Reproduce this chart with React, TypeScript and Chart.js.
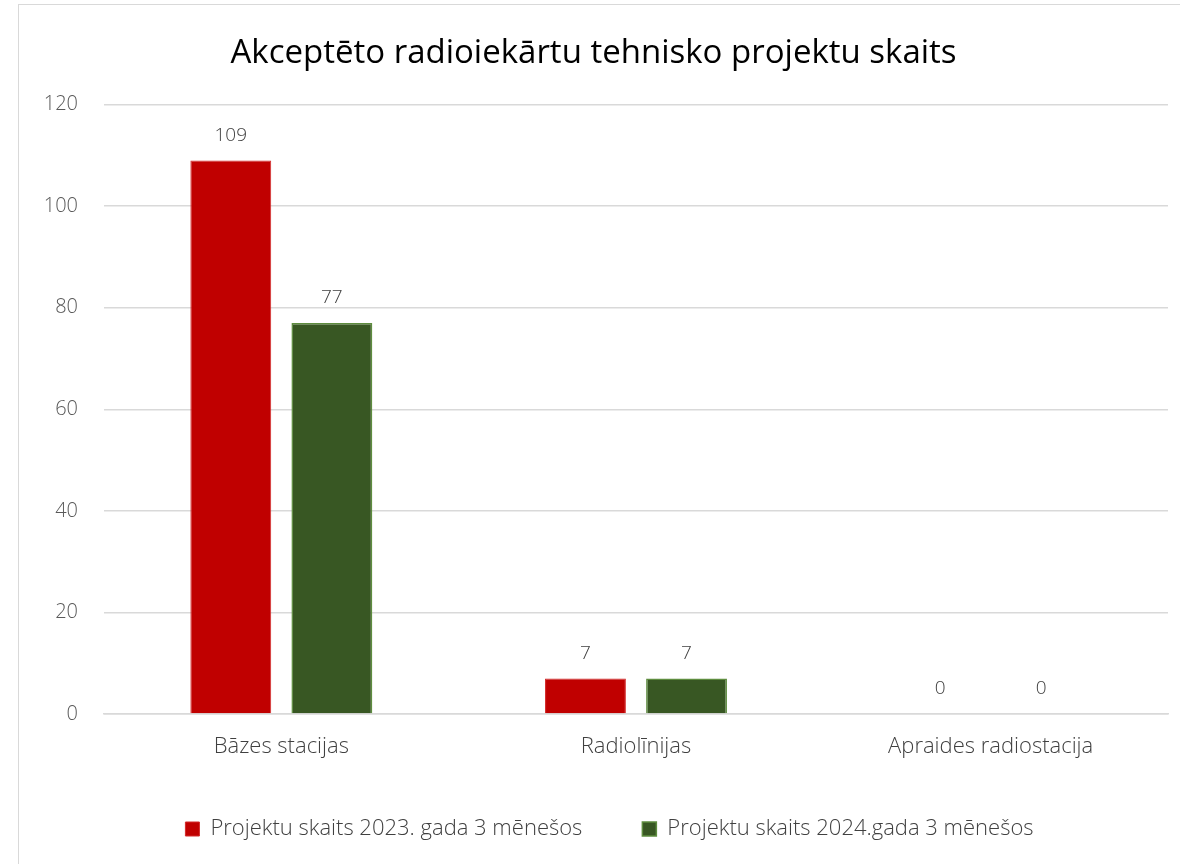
import React, { useEffect, useRef } from "react";
import { Chart, registerables } from "chart.js";

Chart.register(...registerables);

const titleText = "Akceptēto radioiekārtu tehnisko projektu skaits";
const categories = ["Bāzes stacijas", "Radiolīnijas", "Apraides radiostacija"];
const series2023Label = "Projektu skaits 2023. gada 3 mēnešos";
const series2024Label = "Projektu skaits 2024.gada 3 mēnešos";
const values2023 = [109, 7, 0];
const values2024 = [77, 7, 0];
const yMin = 0;
const yMax = 120;
const yStep = 20;

const FONT = "'Open Sans', 'Noto Sans', sans-serif";
const LEGEND_HEIGHT = 97;
const LEGEND_SHIFT_X = 16;

const dataLabelPlugin = {
  id: "dataLabels",
  afterDatasetsDraw(chart: any) {
    const ctx = chart.ctx;
    ctx.save();
    ctx.font = `300 19px ${FONT}`;
    ctx.fillStyle = "#404040";
    ctx.textAlign = "center";
    ctx.textBaseline = "middle";
    chart.data.datasets.forEach((ds: any, i: number) => {
      const meta = chart.getDatasetMeta(i);
      meta.data.forEach((bar: any, j: number) => {
        ctx.fillText(String(ds.data[j]), bar.x, bar.y - 25);
      });
    });
    ctx.restore();
  },
};

const legendHeightPlugin = {
  id: "legendHeight",
  beforeLayout(chart: any) {
    const lg = chart.legend;
    if (lg && !lg.__patched) {
      const orig = lg.fit.bind(lg);
      lg.fit = function () {
        orig();
        this.height = LEGEND_HEIGHT;
      };
      lg.__patched = true;
    }
  },
  afterLayout(chart: any) {
    const lg = chart.legend;
    if (lg) {
      lg.left += LEGEND_SHIFT_X;
      lg.right += LEGEND_SHIFT_X;
    }
  },
};

export default function App() {
  const ref = useRef<HTMLCanvasElement | null>(null);
  useEffect(() => {
    document.body.style.overflow = "hidden";
    const chart = new Chart(ref.current as HTMLCanvasElement, {
      type: "bar",
      data: {
        labels: categories,
        datasets: [
          {
            label: series2023Label,
            data: values2023,
            backgroundColor: "#c00000",
            borderColor: "#d42a2a",
            borderWidth: 1,
            barPercentage: 0.8,
            categoryPercentage: 0.57,
          },
          {
            label: series2024Label,
            data: values2024,
            backgroundColor: "#385723",
            borderColor: "#5e8d3f",
            borderWidth: 1.5,
            barPercentage: 0.8,
            categoryPercentage: 0.57,
          },
        ],
      },
      options: {
        responsive: false,
        animation: false,
        layout: { padding: { left: 0, right: 13, top: 0, bottom: 10 } },
        plugins: {
          title: {
            display: true,
            text: titleText,
            color: "#000000",
            font: { family: FONT, size: 33, weight: "normal" },
            padding: { top: 29, bottom: 31 },
          },
          legend: {
            position: "bottom",
            labels: {
              color: "#404040",
              font: { family: FONT, size: 22, weight: "300" },
              boxWidth: 14,
              boxHeight: 14,
              padding: 60,
            },
          },
          tooltip: { enabled: false },
        },
        scales: {
          x: {
            grid: { display: false, drawTicks: false },
            border: { display: true, color: "#d9d9d9", width: 1.5 },
            ticks: {
              color: "#404040",
              font: { family: FONT, size: 22, weight: "300" },
              padding: 20,
            },
            afterFit(scale: any) {
              scale.height = 44;
            },
          },
          y: {
            min: yMin,
            max: yMax,
            grid: { color: "#d9d9d9", lineWidth: 1.5, drawTicks: false },
            border: { display: false },
            ticks: {
              stepSize: yStep,
              color: "#595959",
              font: { family: FONT, size: 20, weight: "300" },
              padding: 26,
            },
            afterFit(scale: any) {
              scale.width = 85;
            },
          },
        },
      },
      plugins: [legendHeightPlugin, dataLabelPlugin],
    });
    return () => chart.destroy();
  }, []);
  return (
    <div
      style={{
        position: "fixed",
        left: 18,
        top: 4,
        width: 1300,
        height: 1000,
        border: "1px solid #d9d9d9",
        background: "#ffffff",
      }}
    >
      <canvas
        ref={ref}
        width={1162}
        height={860}
        style={{ position: "absolute", left: 0, top: 0, width: 1162, height: 860 }}
      />
    </div>
  );
}
